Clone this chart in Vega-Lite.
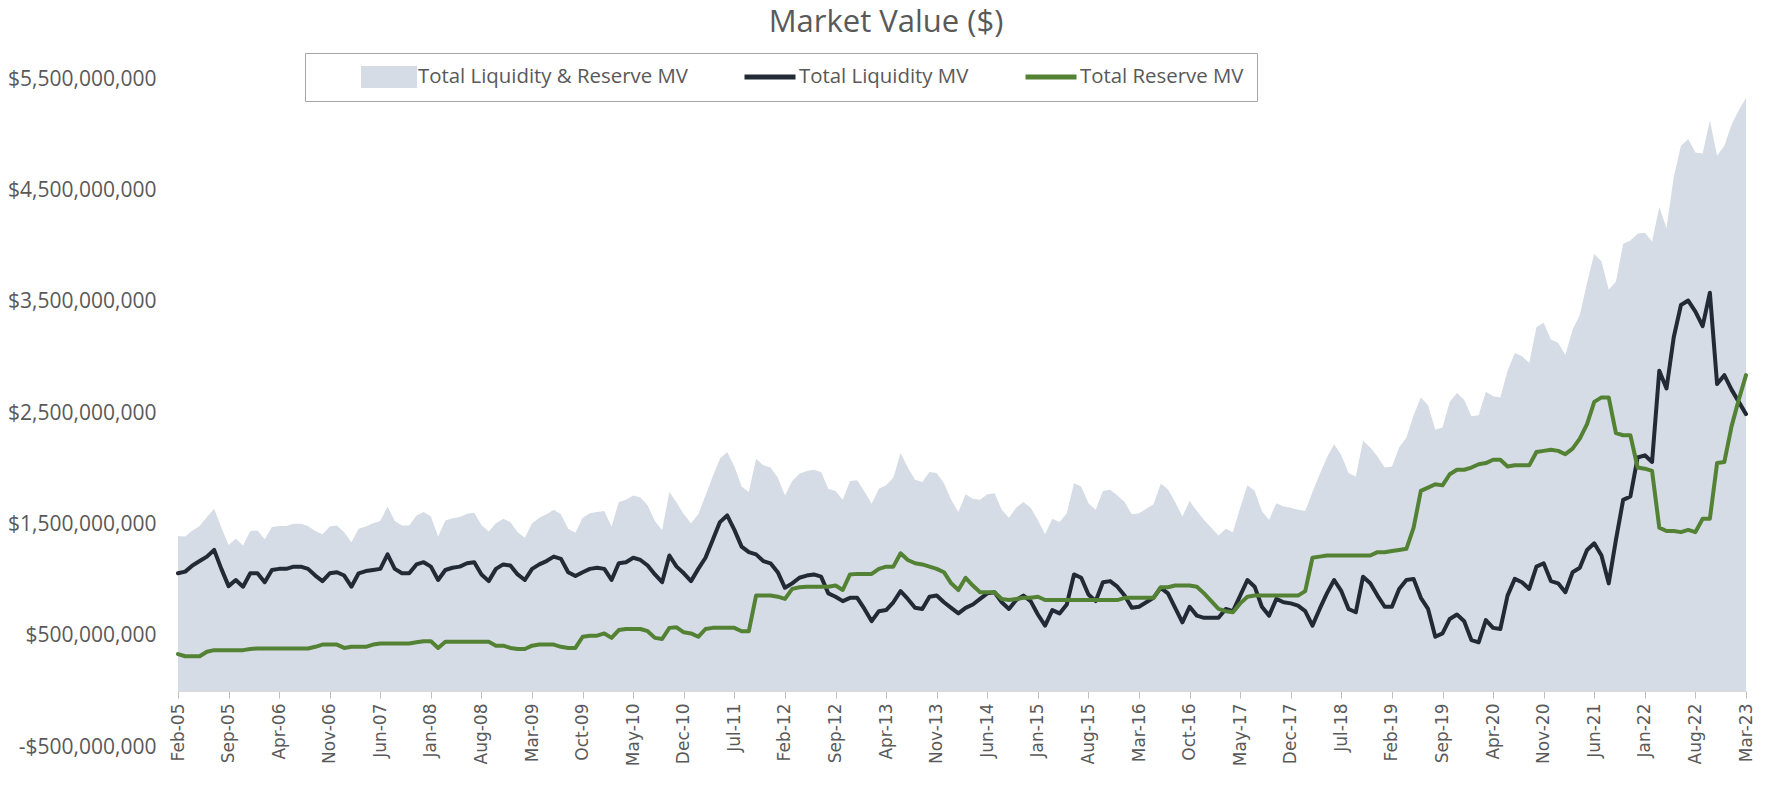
{
  "$schema": "https://vega.github.io/schema/vega-lite/v6.json",
  "width": 1568,
  "height": 668,
  "autosize": "none",
  "padding": {"left": 178, "top": 79, "right": 27, "bottom": 38},
  "background": "white",
  "config": {"view": {"stroke": null}, "font": "Open Sans"},
  "title": {"text": "Market Value ($)", "frame": "group", "anchor": "middle", "dx": -76, "offset": 14, "fontSize": 31, "fontWeight": "normal", "color": "#595959", "font": "Open Sans"},
  "data": {"values": [
    {"m":"Feb-05","liq":1060,"res":335,"tot":1395},
    {"m":"Mar-05","liq":1075,"res":315,"tot":1390},
    {"m":"Apr-05","liq":1130,"res":315,"tot":1445},
    {"m":"May-05","liq":1170,"res":315,"tot":1485},
    {"m":"Jun-05","liq":1210,"res":355,"tot":1565},
    {"m":"Jul-05","liq":1270,"res":370,"tot":1640},
    {"m":"Aug-05","liq":1100,"res":370,"tot":1470},
    {"m":"Sep-05","liq":945,"res":370,"tot":1315},
    {"m":"Oct-05","liq":1000,"res":370,"tot":1370},
    {"m":"Nov-05","liq":940,"res":370,"tot":1310},
    {"m":"Dec-05","liq":1060,"res":380,"tot":1440},
    {"m":"Jan-06","liq":1060,"res":385,"tot":1445},
    {"m":"Feb-06","liq":980,"res":385,"tot":1365},
    {"m":"Mar-06","liq":1090,"res":385,"tot":1475},
    {"m":"Apr-06","liq":1100,"res":385,"tot":1485},
    {"m":"May-06","liq":1100,"res":385,"tot":1485},
    {"m":"Jun-06","liq":1120,"res":385,"tot":1505},
    {"m":"Jul-06","liq":1120,"res":385,"tot":1505},
    {"m":"Aug-06","liq":1100,"res":385,"tot":1485},
    {"m":"Sep-06","liq":1040,"res":400,"tot":1440},
    {"m":"Oct-06","liq":990,"res":420,"tot":1410},
    {"m":"Nov-06","liq":1060,"res":420,"tot":1480},
    {"m":"Dec-06","liq":1070,"res":420,"tot":1490},
    {"m":"Jan-07","liq":1040,"res":390,"tot":1430},
    {"m":"Feb-07","liq":940,"res":400,"tot":1340},
    {"m":"Mar-07","liq":1060,"res":400,"tot":1460},
    {"m":"Apr-07","liq":1080,"res":400,"tot":1480},
    {"m":"May-07","liq":1090,"res":420,"tot":1510},
    {"m":"Jun-07","liq":1100,"res":430,"tot":1530},
    {"m":"Jul-07","liq":1230,"res":430,"tot":1660},
    {"m":"Aug-07","liq":1100,"res":430,"tot":1530},
    {"m":"Sep-07","liq":1060,"res":430,"tot":1490},
    {"m":"Oct-07","liq":1060,"res":430,"tot":1490},
    {"m":"Nov-07","liq":1140,"res":440,"tot":1580},
    {"m":"Dec-07","liq":1160,"res":450,"tot":1610},
    {"m":"Jan-08","liq":1120,"res":450,"tot":1570},
    {"m":"Feb-08","liq":1000,"res":390,"tot":1390},
    {"m":"Mar-08","liq":1090,"res":445,"tot":1535},
    {"m":"Apr-08","liq":1110,"res":445,"tot":1555},
    {"m":"May-08","liq":1120,"res":445,"tot":1565},
    {"m":"Jun-08","liq":1150,"res":445,"tot":1595},
    {"m":"Jul-08","liq":1160,"res":445,"tot":1605},
    {"m":"Aug-08","liq":1050,"res":445,"tot":1495},
    {"m":"Sep-08","liq":990,"res":445,"tot":1435},
    {"m":"Oct-08","liq":1100,"res":410,"tot":1510},
    {"m":"Nov-08","liq":1140,"res":410,"tot":1550},
    {"m":"Dec-08","liq":1130,"res":390,"tot":1520},
    {"m":"Jan-09","liq":1050,"res":380,"tot":1430},
    {"m":"Feb-09","liq":1000,"res":380,"tot":1380},
    {"m":"Mar-09","liq":1100,"res":410,"tot":1510},
    {"m":"Apr-09","liq":1140,"res":420,"tot":1560},
    {"m":"May-09","liq":1170,"res":420,"tot":1590},
    {"m":"Jun-09","liq":1210,"res":420,"tot":1630},
    {"m":"Jul-09","liq":1190,"res":400,"tot":1590},
    {"m":"Aug-09","liq":1070,"res":390,"tot":1460},
    {"m":"Sep-09","liq":1035,"res":390,"tot":1425},
    {"m":"Oct-09","liq":1070,"res":490,"tot":1560},
    {"m":"Nov-09","liq":1100,"res":500,"tot":1600},
    {"m":"Dec-09","liq":1110,"res":500,"tot":1610},
    {"m":"Jan-10","liq":1100,"res":520,"tot":1620},
    {"m":"Feb-10","liq":1000,"res":480,"tot":1480},
    {"m":"Mar-10","liq":1150,"res":550,"tot":1700},
    {"m":"Apr-10","liq":1160,"res":560,"tot":1720},
    {"m":"May-10","liq":1200,"res":560,"tot":1760},
    {"m":"Jun-10","liq":1180,"res":560,"tot":1740},
    {"m":"Jul-10","liq":1130,"res":540,"tot":1670},
    {"m":"Aug-10","liq":1050,"res":480,"tot":1530},
    {"m":"Sep-10","liq":980,"res":470,"tot":1450},
    {"m":"Oct-10","liq":1220,"res":570,"tot":1790},
    {"m":"Nov-10","liq":1120,"res":575,"tot":1695},
    {"m":"Dec-10","liq":1060,"res":530,"tot":1590},
    {"m":"Jan-11","liq":990,"res":520,"tot":1510},
    {"m":"Feb-11","liq":1100,"res":490,"tot":1590},
    {"m":"Mar-11","liq":1200,"res":560,"tot":1760},
    {"m":"Apr-11","liq":1360,"res":570,"tot":1930},
    {"m":"May-11","liq":1520,"res":570,"tot":2090},
    {"m":"Jun-11","liq":1580,"res":570,"tot":2150},
    {"m":"Jul-11","liq":1450,"res":570,"tot":2020},
    {"m":"Aug-11","liq":1300,"res":540,"tot":1840},
    {"m":"Sep-11","liq":1250,"res":540,"tot":1790},
    {"m":"Oct-11","liq":1230,"res":860,"tot":2090},
    {"m":"Nov-11","liq":1170,"res":860,"tot":2030},
    {"m":"Dec-11","liq":1150,"res":860,"tot":2010},
    {"m":"Jan-12","liq":1070,"res":850,"tot":1920},
    {"m":"Feb-12","liq":930,"res":830,"tot":1760},
    {"m":"Mar-12","liq":970,"res":920,"tot":1890},
    {"m":"Apr-12","liq":1020,"res":935,"tot":1955},
    {"m":"May-12","liq":1040,"res":940,"tot":1980},
    {"m":"Jun-12","liq":1050,"res":940,"tot":1990},
    {"m":"Jul-12","liq":1030,"res":940,"tot":1970},
    {"m":"Aug-12","liq":880,"res":940,"tot":1820},
    {"m":"Sep-12","liq":850,"res":950,"tot":1800},
    {"m":"Oct-12","liq":810,"res":910,"tot":1720},
    {"m":"Nov-12","liq":840,"res":1050,"tot":1890},
    {"m":"Dec-12","liq":840,"res":1055,"tot":1895},
    {"m":"Jan-13","liq":740,"res":1055,"tot":1795},
    {"m":"Feb-13","liq":630,"res":1055,"tot":1685},
    {"m":"Mar-13","liq":720,"res":1100,"tot":1820},
    {"m":"Apr-13","liq":730,"res":1120,"tot":1850},
    {"m":"May-13","liq":800,"res":1120,"tot":1920},
    {"m":"Jun-13","liq":900,"res":1240,"tot":2140},
    {"m":"Jul-13","liq":830,"res":1180,"tot":2010},
    {"m":"Aug-13","liq":750,"res":1150,"tot":1900},
    {"m":"Sep-13","liq":740,"res":1140,"tot":1880},
    {"m":"Oct-13","liq":850,"res":1120,"tot":1970},
    {"m":"Nov-13","liq":860,"res":1100,"tot":1960},
    {"m":"Dec-13","liq":800,"res":1070,"tot":1870},
    {"m":"Jan-14","liq":750,"res":970,"tot":1720},
    {"m":"Feb-14","liq":700,"res":910,"tot":1610},
    {"m":"Mar-14","liq":750,"res":1020,"tot":1770},
    {"m":"Apr-14","liq":780,"res":950,"tot":1730},
    {"m":"May-14","liq":830,"res":890,"tot":1720},
    {"m":"Jun-14","liq":880,"res":890,"tot":1770},
    {"m":"Jul-14","liq":890,"res":890,"tot":1780},
    {"m":"Aug-14","liq":800,"res":830,"tot":1630},
    {"m":"Sep-14","liq":740,"res":820,"tot":1560},
    {"m":"Oct-14","liq":820,"res":830,"tot":1650},
    {"m":"Nov-14","liq":860,"res":840,"tot":1700},
    {"m":"Dec-14","liq":810,"res":840,"tot":1650},
    {"m":"Jan-15","liq":690,"res":850,"tot":1540},
    {"m":"Feb-15","liq":590,"res":820,"tot":1410},
    {"m":"Mar-15","liq":730,"res":820,"tot":1550},
    {"m":"Apr-15","liq":700,"res":820,"tot":1520},
    {"m":"May-15","liq":780,"res":820,"tot":1600},
    {"m":"Jun-15","liq":1050,"res":820,"tot":1870},
    {"m":"Jul-15","liq":1020,"res":820,"tot":1840},
    {"m":"Aug-15","liq":870,"res":820,"tot":1690},
    {"m":"Sep-15","liq":810,"res":820,"tot":1630},
    {"m":"Oct-15","liq":980,"res":820,"tot":1800},
    {"m":"Nov-15","liq":990,"res":820,"tot":1810},
    {"m":"Dec-15","liq":940,"res":820,"tot":1760},
    {"m":"Jan-16","liq":860,"res":840,"tot":1700},
    {"m":"Feb-16","liq":750,"res":840,"tot":1590},
    {"m":"Mar-16","liq":760,"res":840,"tot":1600},
    {"m":"Apr-16","liq":800,"res":840,"tot":1640},
    {"m":"May-16","liq":840,"res":840,"tot":1680},
    {"m":"Jun-16","liq":930,"res":935,"tot":1865},
    {"m":"Jul-16","liq":880,"res":935,"tot":1815},
    {"m":"Aug-16","liq":750,"res":950,"tot":1700},
    {"m":"Sep-16","liq":620,"res":950,"tot":1570},
    {"m":"Oct-16","liq":760,"res":950,"tot":1710},
    {"m":"Nov-16","liq":680,"res":940,"tot":1620},
    {"m":"Dec-16","liq":660,"res":880,"tot":1540},
    {"m":"Jan-17","liq":660,"res":810,"tot":1470},
    {"m":"Feb-17","liq":660,"res":740,"tot":1400},
    {"m":"Mar-17","liq":740,"res":720,"tot":1460},
    {"m":"Apr-17","liq":720,"res":710,"tot":1430},
    {"m":"May-17","liq":860,"res":790,"tot":1650},
    {"m":"Jun-17","liq":1000,"res":850,"tot":1850},
    {"m":"Jul-17","liq":940,"res":860,"tot":1800},
    {"m":"Aug-17","liq":760,"res":860,"tot":1620},
    {"m":"Sep-17","liq":680,"res":860,"tot":1540},
    {"m":"Oct-17","liq":830,"res":860,"tot":1690},
    {"m":"Nov-17","liq":800,"res":860,"tot":1660},
    {"m":"Dec-17","liq":790,"res":860,"tot":1650},
    {"m":"Jan-18","liq":770,"res":860,"tot":1630},
    {"m":"Feb-18","liq":720,"res":900,"tot":1620},
    {"m":"Mar-18","liq":590,"res":1200,"tot":1790},
    {"m":"Apr-18","liq":740,"res":1210,"tot":1950},
    {"m":"May-18","liq":880,"res":1220,"tot":2100},
    {"m":"Jun-18","liq":1000,"res":1220,"tot":2220},
    {"m":"Jul-18","liq":900,"res":1220,"tot":2120},
    {"m":"Aug-18","liq":740,"res":1220,"tot":1960},
    {"m":"Sep-18","liq":710,"res":1220,"tot":1930},
    {"m":"Oct-18","liq":1030,"res":1220,"tot":2250},
    {"m":"Nov-18","liq":970,"res":1220,"tot":2190},
    {"m":"Dec-18","liq":860,"res":1250,"tot":2110},
    {"m":"Jan-19","liq":760,"res":1250,"tot":2010},
    {"m":"Feb-19","liq":760,"res":1260,"tot":2020},
    {"m":"Mar-19","liq":920,"res":1270,"tot":2190},
    {"m":"Apr-19","liq":1000,"res":1280,"tot":2280},
    {"m":"May-19","liq":1010,"res":1470,"tot":2480},
    {"m":"Jun-19","liq":840,"res":1800,"tot":2640},
    {"m":"Jul-19","liq":740,"res":1830,"tot":2570},
    {"m":"Aug-19","liq":490,"res":1860,"tot":2350},
    {"m":"Sep-19","liq":520,"res":1850,"tot":2370},
    {"m":"Oct-19","liq":650,"res":1950,"tot":2600},
    {"m":"Nov-19","liq":690,"res":1990,"tot":2680},
    {"m":"Dec-19","liq":630,"res":1990,"tot":2620},
    {"m":"Jan-20","liq":460,"res":2010,"tot":2470},
    {"m":"Feb-20","liq":440,"res":2040,"tot":2480},
    {"m":"Mar-20","liq":640,"res":2050,"tot":2690},
    {"m":"Apr-20","liq":570,"res":2080,"tot":2650},
    {"m":"May-20","liq":560,"res":2080,"tot":2640},
    {"m":"Jun-20","liq":860,"res":2020,"tot":2880},
    {"m":"Jul-20","liq":1010,"res":2030,"tot":3040},
    {"m":"Aug-20","liq":980,"res":2030,"tot":3010},
    {"m":"Sep-20","liq":920,"res":2030,"tot":2950},
    {"m":"Oct-20","liq":1120,"res":2150,"tot":3270},
    {"m":"Nov-20","liq":1150,"res":2160,"tot":3310},
    {"m":"Dec-20","liq":990,"res":2170,"tot":3160},
    {"m":"Jan-21","liq":970,"res":2160,"tot":3130},
    {"m":"Feb-21","liq":890,"res":2130,"tot":3020},
    {"m":"Mar-21","liq":1070,"res":2180,"tot":3250},
    {"m":"Apr-21","liq":1110,"res":2270,"tot":3380},
    {"m":"May-21","liq":1270,"res":2400,"tot":3670},
    {"m":"Jun-21","liq":1330,"res":2600,"tot":3930},
    {"m":"Jul-21","liq":1220,"res":2640,"tot":3860},
    {"m":"Aug-21","liq":970,"res":2640,"tot":3610},
    {"m":"Sep-21","liq":1360,"res":2320,"tot":3680},
    {"m":"Oct-21","liq":1720,"res":2300,"tot":4020},
    {"m":"Nov-21","liq":1750,"res":2300,"tot":4050},
    {"m":"Dec-21","liq":2100,"res":2010,"tot":4110},
    {"m":"Jan-22","liq":2120,"res":2000,"tot":4120},
    {"m":"Feb-22","liq":2060,"res":1980,"tot":4040},
    {"m":"Mar-22","liq":2880,"res":1470,"tot":4350},
    {"m":"Apr-22","liq":2720,"res":1440,"tot":4160},
    {"m":"May-22","liq":3180,"res":1440,"tot":4620},
    {"m":"Jun-22","liq":3470,"res":1430,"tot":4900},
    {"m":"Jul-22","liq":3510,"res":1450,"tot":4960},
    {"m":"Aug-22","liq":3410,"res":1430,"tot":4840},
    {"m":"Sep-22","liq":3280,"res":1550,"tot":4830},
    {"m":"Oct-22","liq":3580,"res":1550,"tot":5130},
    {"m":"Nov-22","liq":2760,"res":2050,"tot":4810},
    {"m":"Dec-22","liq":2840,"res":2060,"tot":4900},
    {"m":"Jan-23","liq":2710,"res":2380,"tot":5090},
    {"m":"Feb-23","liq":2600,"res":2620,"tot":5220},
    {"m":"Mar-23","liq":2490,"res":2840,"tot":5330}
  ]},
  "encoding": {
    "x": {
      "field": "m", "type": "ordinal", "sort": null,
      "scale": {"type": "point", "padding": 0},
      "axis": {
        "title": null,
        "values": ["Feb-05","Sep-05","Apr-06","Nov-06","Jun-07","Jan-08","Aug-08","Mar-09","Oct-09","May-10","Dec-10","Jul-11","Feb-12","Sep-12","Apr-13","Nov-13","Jun-14","Jan-15","Aug-15","Mar-16","Oct-16","May-17","Dec-17","Jul-18","Feb-19","Sep-19","Apr-20","Nov-20","Jun-21","Jan-22","Aug-22","Mar-23"],
        "labelAngle": -90,
        "labelFont": "DejaVu Sans",
        "labelFontSize": 17,
        "labelColor": "#595959",
        "labelPadding": 5,
        "labelOverlap": false,
        "tickColor": "#bfbfbf",
        "tickSize": 7,
        "domainColor": "#d9d9d9",
        "grid": false,
        "offset": -56,
        "zindex": 1
      }
    }
  },
  "layer": [
    {
      "mark": {"type": "area", "opacity": 1},
      "encoding": {
        "y": {
          "field": "tot", "type": "quantitative", "title": null,
          "scale": {"domain": [-500, 5500], "nice": false, "zero": false},
          "axis": {
            "title": null,
            "values": [-500, 500, 1500, 2500, 3500, 4500, 5500],
            "labelExpr": "(datum.value < 0 ? '-' : '') + '$' + format(abs(datum.value) * 1000000, ',')",
            "labelFont": "Open Sans",
            "labelFontSize": 21,
            "labelColor": "#595959",
            "labelPadding": 22,
            "domain": false,
            "ticks": false,
            "grid": false
          }
        },
        "y2": {"datum": 0},
        "color": {
          "datum": "Total Liquidity & Reserve MV",
          "type": "nominal",
          "scale": {
            "domain": ["Total Liquidity & Reserve MV", "Total Liquidity MV", "Total Reserve MV"],
            "range": ["#d6dce5", "#222a35", "#548235"]
          },
          "legend": {
            "orient": "none",
            "legendX": 127,
            "legendY": -26,
            "direction": "horizontal",
            "title": " ",
            "titleOrient": "left",
            "titlePadding": 43,
            "titleFontSize": 20,
            "padding": 13,
            "strokeColor": "#a6a6a6",
            "fillColor": "white",
            "labelFont": "Open Sans",
            "labelFontSize": 20.4,
            "labelColor": "#595959",
            "labelOffset": 1,
            "labelExpr": "datum.label === 'Total Reserve MV' ? datum.label + '\u00a0\u00a0\u00a0\u00a0\u00a0' : datum.label",
            "columnPadding": 54,
            "clipHeight": 22,
            "labelLimit": 500,
            "symbolSize": 2601,
            "symbolOpacity": 1,
            "symbolStrokeWidth": 5,
            "symbolType": {"expr": "datum.value === 'Total Liquidity & Reserve MV' ? 'M-1,-0.38L1,-0.38L1,0.38L-1,0.38Z' : 'stroke'"},
            "symbolStrokeColor": {"expr": "datum.value === 'Total Liquidity & Reserve MV' ? 'transparent' : (datum.value === 'Total Liquidity MV' ? '#222a35' : '#548235')"},
            "symbolFillColor": {"expr": "datum.value === 'Total Liquidity & Reserve MV' ? '#d6dce5' : 'transparent'"}
          }
        }
      }
    },
    {
      "mark": {"type": "line", "strokeWidth": 4, "strokeJoin": "round", "strokeCap": "round"},
      "encoding": {
        "y": {"field": "liq", "type": "quantitative", "title": null},
        "color": {"datum": "Total Liquidity MV", "type": "nominal"}
      }
    },
    {
      "mark": {"type": "line", "strokeWidth": 4, "strokeJoin": "round", "strokeCap": "round"},
      "encoding": {
        "y": {"field": "res", "type": "quantitative", "title": null},
        "color": {"datum": "Total Reserve MV", "type": "nominal"}
      }
    }
  ]
}
